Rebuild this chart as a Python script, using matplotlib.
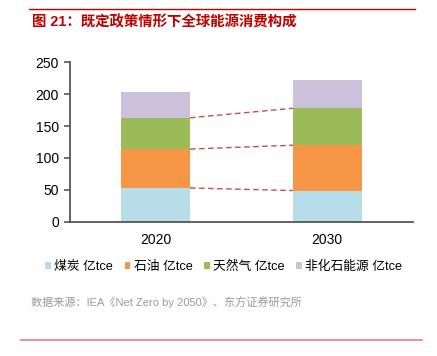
import matplotlib.pyplot as plt
from matplotlib.lines import Line2D
from matplotlib.patches import Patch

plt.rcParams['font.family'] = ['Liberation Sans', 'Noto Sans CJK SC', 'DejaVu Sans']

years = ['2020', '2030']
series_names = ['煤炭 亿tce', '石油 亿tce', '天然气 亿tce', '非化石能源 亿tce']
coal = [53, 49]
oil = [61, 71]
gas = [49, 58]
non_fossil = [40, 45]
colors = ['#B7DDE8', '#F79646', '#9BBB59', '#CCC1DA']

fig = plt.figure(figsize=(4.37, 3.56), dpi=100)
ax = fig.add_axes([0.160, 0.377, 0.785, 0.448])

x = [0, 1]
width = 0.4
bottoms = [0, 0]
tops = []
for vals, c in zip([coal, oil, gas, non_fossil], colors):
    ax.bar(x, vals, width, bottom=bottoms, color=c, edgecolor='none')
    bottoms = [b + v for b, v in zip(bottoms, vals)]
    tops.append(list(bottoms))

# dashed connectors between the first three layer tops
for t in tops[:3]:
    ax.plot([x[0] + width / 2, x[1] - width / 2], t, ls=(0, (4, 2.5)),
            color='#C0504D', lw=1.0)

ax.set_xlim(-0.5, 1.5)
ax.set_ylim(0, 250)
ax.set_yticks(range(0, 251, 50))
ax.set_xticks(x)
ax.set_xticklabels(years)
ax.tick_params(axis='x', length=0, pad=8, labelsize=10)
ax.tick_params(axis='y', length=4, width=1.2, color='#555555', labelsize=10, pad=4)
for s in ['top', 'right']:
    ax.spines[s].set_visible(False)
for s in ['left', 'bottom']:
    ax.spines[s].set_color('#555555')
    ax.spines[s].set_linewidth(1.3)

handles = [Patch(facecolor=c, edgecolor='none') for c in colors]
fig.legend(handles, series_names, loc='center', bbox_to_anchor=(0.512, 1 - 266.5 / 356),
           ncol=4, frameon=False, fontsize=9.2, handlelength=0.45, handleheight=0.45,
           handletextpad=0.25, columnspacing=0.9)

fig.text(32 / 437, 1 - 22.5 / 356, '图 21：既定政策情形下全球能源消费构成', color='#C00000',
         fontsize=10.4, fontweight='bold', va='center', ha='left')
fig.text(31 / 437, 1 - 302 / 356, '数据来源：IEA《Net Zero by 2050》、东方证券研究所', color='#999999',
         fontsize=8, va='center', ha='left')

fig.add_artist(Line2D([29 / 437, 415 / 437], [1 - 9.3 / 356] * 2, color='#C00000', lw=1.0))
fig.add_artist(Line2D([21 / 437, 422 / 437], [1 - 340 / 356] * 2, color='#E08080', lw=1.2))

fig.savefig('out.png', dpi=100)
